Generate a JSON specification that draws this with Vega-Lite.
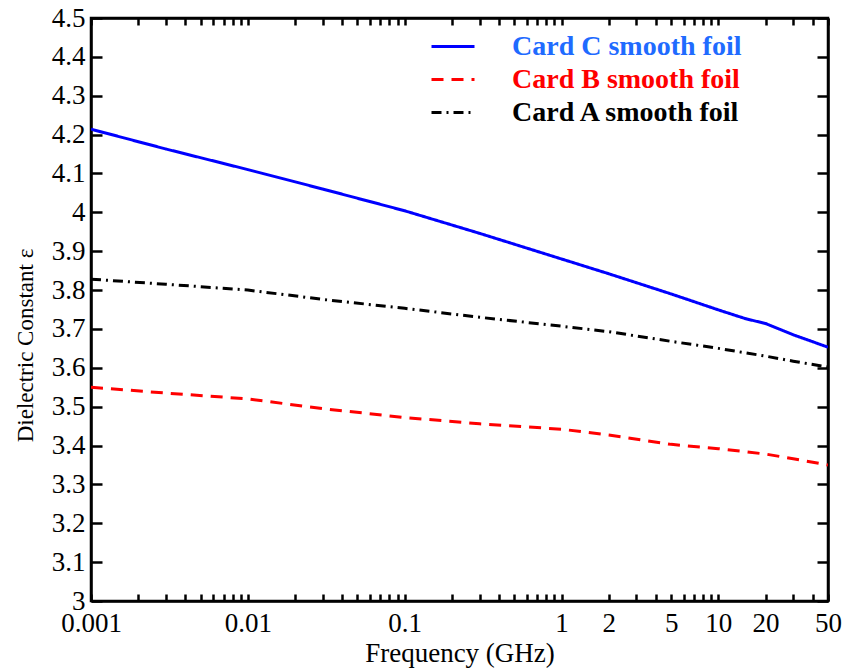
{
  "$schema": "https://vega.github.io/schema/vega-lite/v6.json",
  "width": 737,
  "height": 583,
  "autosize": "none",
  "padding": {"left": 91, "top": 18, "right": 15, "bottom": 68},
  "background": "white",
  "config": {
    "view": {"stroke": "black", "strokeWidth": 2.5},
    "axis": {
      "domainColor": "black", "domainWidth": 2.5, "tickColor": "black", "tickWidth": 2.5,
      "grid": false, "labelFont": "Liberation Serif", "labelFontSize": 27, "labelColor": "black",
      "titleFont": "Liberation Serif", "titleFontWeight": "normal", "titleColor": "black"
    }
  },
  "data": {"values": [
    {"freq": 0.001, "eps": 4.214, "card": "Card C smooth foil"},
    {"freq": 0.003, "eps": 4.163, "card": "Card C smooth foil"},
    {"freq": 0.01, "eps": 4.11, "card": "Card C smooth foil"},
    {"freq": 0.03, "eps": 4.06, "card": "Card C smooth foil"},
    {"freq": 0.1, "eps": 4.004, "card": "Card C smooth foil"},
    {"freq": 0.3, "eps": 3.946, "card": "Card C smooth foil"},
    {"freq": 1, "eps": 3.88, "card": "Card C smooth foil"},
    {"freq": 2, "eps": 3.842, "card": "Card C smooth foil"},
    {"freq": 5, "eps": 3.79, "card": "Card C smooth foil"},
    {"freq": 10, "eps": 3.749, "card": "Card C smooth foil"},
    {"freq": 15, "eps": 3.726, "card": "Card C smooth foil"},
    {"freq": 20, "eps": 3.714, "card": "Card C smooth foil"},
    {"freq": 25, "eps": 3.698, "card": "Card C smooth foil"},
    {"freq": 30, "eps": 3.685, "card": "Card C smooth foil"},
    {"freq": 40, "eps": 3.667, "card": "Card C smooth foil"},
    {"freq": 50, "eps": 3.653, "card": "Card C smooth foil"},
    {"freq": 0.001, "eps": 3.55, "card": "Card B smooth foil"},
    {"freq": 0.003, "eps": 3.535, "card": "Card B smooth foil"},
    {"freq": 0.01, "eps": 3.52, "card": "Card B smooth foil"},
    {"freq": 0.03, "eps": 3.495, "card": "Card B smooth foil"},
    {"freq": 0.1, "eps": 3.472, "card": "Card B smooth foil"},
    {"freq": 0.3, "eps": 3.456, "card": "Card B smooth foil"},
    {"freq": 1, "eps": 3.442, "card": "Card B smooth foil"},
    {"freq": 2, "eps": 3.427, "card": "Card B smooth foil"},
    {"freq": 5, "eps": 3.403, "card": "Card B smooth foil"},
    {"freq": 10, "eps": 3.392, "card": "Card B smooth foil"},
    {"freq": 20, "eps": 3.378, "card": "Card B smooth foil"},
    {"freq": 30, "eps": 3.366, "card": "Card B smooth foil"},
    {"freq": 50, "eps": 3.35, "card": "Card B smooth foil"},
    {"freq": 0.001, "eps": 3.828, "card": "Card A smooth foil"},
    {"freq": 0.003, "eps": 3.815, "card": "Card A smooth foil"},
    {"freq": 0.01, "eps": 3.8, "card": "Card A smooth foil"},
    {"freq": 0.03, "eps": 3.776, "card": "Card A smooth foil"},
    {"freq": 0.1, "eps": 3.753, "card": "Card A smooth foil"},
    {"freq": 0.3, "eps": 3.73, "card": "Card A smooth foil"},
    {"freq": 1, "eps": 3.707, "card": "Card A smooth foil"},
    {"freq": 2, "eps": 3.693, "card": "Card A smooth foil"},
    {"freq": 5, "eps": 3.668, "card": "Card A smooth foil"},
    {"freq": 10, "eps": 3.65, "card": "Card A smooth foil"},
    {"freq": 20, "eps": 3.63, "card": "Card A smooth foil"},
    {"freq": 30, "eps": 3.617, "card": "Card A smooth foil"},
    {"freq": 50, "eps": 3.602, "card": "Card A smooth foil"}
  ]},
  "resolve": {"axis": {"x": "independent", "y": "independent"}},
  "layer": [
    {
      "mark": {"type": "line", "strokeWidth": 3, "clip": true},
      "encoding": {
        "x": {"field": "freq", "type": "quantitative",
          "scale": {"type": "log", "domain": [0.001, 50], "nice": false},
          "axis": {"orient": "bottom", "title": "Frequency (GHz)", "titleFontSize": 27, "titlePadding": 4,
            "values": [0.001,0.002,0.003,0.004,0.005,0.006,0.007,0.008,0.009,0.01,0.02,0.03,0.04,0.05,0.06,0.07,0.08,0.09,0.1,0.2,0.3,0.4,0.5,0.6,0.7,0.8,0.9,1,2,3,4,5,6,7,8,9,10,20,30,40,50],
            "tickSize": -7, "labelPadding": 16, "labelOverlap": false, "labelBound": false, "labelFlush": false,
            "labelExpr": "indexof([0.001,0.01,0.1,1,2,5,10,20,50], datum.value) >= 0 ? format(datum.value, '~g') : ''",
            "encode": {"ticks": {"update": {"y2": {"signal": "indexof([0.001,0.01,0.1,1,10,50], datum.value) >= 0 ? -12 : -7"}}}}
          }},
        "y": {"field": "eps", "type": "quantitative",
          "scale": {"domain": [3, 4.5], "nice": false, "zero": false},
          "axis": {"orient": "left", "title": "Dielectric Constant ε", "titleFontSize": 23,
            "values": [3,3.1,3.2,3.3,3.4,3.5,3.6,3.7,3.8,3.9,4,4.1,4.2,4.3,4.4,4.5],
            "labelExpr": "format(datum.value, '~g')",
            "tickSize": -11, "labelPadding": 17, "labelOverlap": false, "labelBound": false, "labelFlush": false,
            "titleAngle": -90, "titleX": -66, "titleY": 327, "titleBaseline": "middle", "titleAlign": "center"}},
        "color": {"field": "card", "type": "nominal",
          "scale": {"domain": ["Card C smooth foil", "Card B smooth foil", "Card A smooth foil"], "range": ["#0000ff", "#ff0000", "#000000"]},
          "legend": {"title": null, "orient": "none", "legendX": 339, "legendY": 12,
            "symbolType": "stroke", "symbolSize": 1849, "symbolStrokeWidth": 3,
            "labelFont": "Liberation Serif", "labelFontWeight": "bold", "labelFontSize": 28, "labelOffset": 36, "labelLimit": 0,
            "clipHeight": 33, "rowPadding": 0, "padding": 0,
            "encode": {"labels": {"update": {"fill": {"signal": "datum.value === 'Card C smooth foil' ? '#1f6bff' : datum.value === 'Card B smooth foil' ? '#ff0000' : '#000000'"}}}}}},
        "strokeDash": {"field": "card", "type": "nominal",
          "scale": {"domain": ["Card C smooth foil", "Card B smooth foil", "Card A smooth foil"], "range": [[1, 0], [12, 8], [10, 5, 2, 5]]},
          "legend": null}
      }
    },
    {
      "mark": {"type": "point", "opacity": 0},
      "encoding": {
        "x": {"field": "freq", "type": "quantitative",
          "axis": {"orient": "top", "title": null, "labels": false,
            "values": [0.001,0.002,0.003,0.004,0.005,0.006,0.007,0.008,0.009,0.01,0.02,0.03,0.04,0.05,0.06,0.07,0.08,0.09,0.1,0.2,0.3,0.4,0.5,0.6,0.7,0.8,0.9,1,2,3,4,5,6,7,8,9,10,20,30,40,50],
            "tickSize": -7,
            "encode": {"ticks": {"update": {"y2": {"signal": "indexof([0.001,0.01,0.1,1,10,50], datum.value) >= 0 ? 12 : 7"}}}}}},
        "y": {"field": "eps", "type": "quantitative",
          "axis": {"orient": "right", "title": null, "labels": false,
            "values": [3,3.1,3.2,3.3,3.4,3.5,3.6,3.7,3.8,3.9,4,4.1,4.2,4.3,4.4,4.5],
            "tickSize": -11}}
      }
    }
  ]
}
